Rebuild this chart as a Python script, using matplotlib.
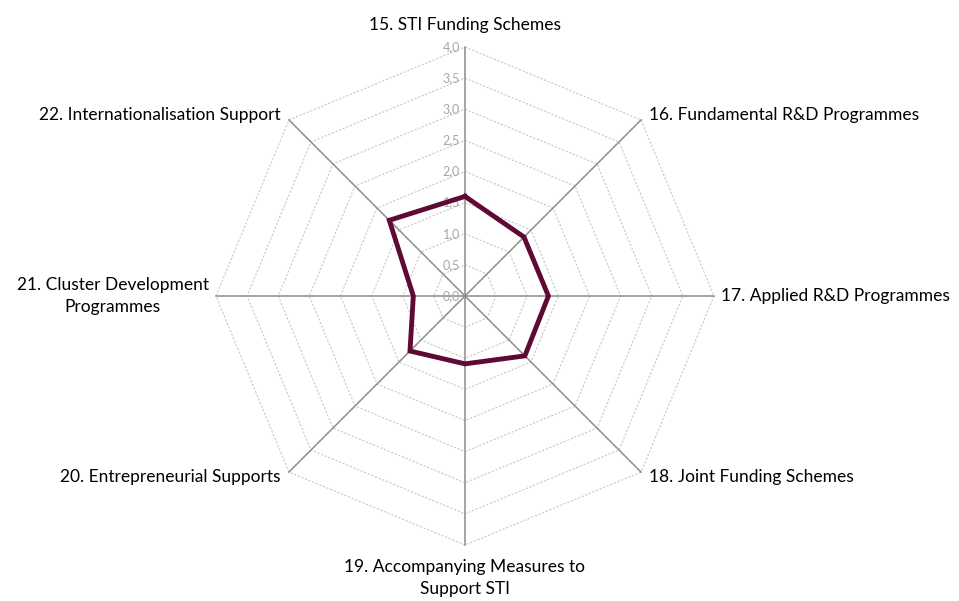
import numpy as np
import matplotlib.pyplot as plt

categories = [
    "15. STI Funding Schemes",
    "16. Fundamental R&D Programmes",
    "17. Applied R&D Programmes",
    "18. Joint Funding Schemes",
    "19. Accompanying Measures to\nSupport STI",
    "20. Entrepreneurial Supports",
    "21. Cluster Development\nProgrammes",
    "22. Internationalisation Support",
]
values = [1.60, 1.34, 1.34, 1.36, 1.09, 1.25, 0.83, 1.72]
ticks = [0.0, 0.5, 1.0, 1.5, 2.0, 2.5, 3.0, 3.5, 4.0]
tick_labels = ["0,0", "0,5", "1,0", "1,5", "2,0", "2,5", "3,0", "3,5", "4,0"]

plt.rcParams['font.family'] = ['Lato', 'DejaVu Sans']

fig = plt.figure(figsize=(9.59, 6.01), dpi=100)
ax = fig.add_axes([0, 0, 1, 1])
scale = 62.25  # pixels per unit
cx, cy = 465, 296
ax.set_xlim(-cx / scale, (959 - cx) / scale)
ax.set_ylim(-(601 - cy) / scale, cy / scale)
ax.axis("off")

n = len(categories)
ang = np.pi / 2 - np.arange(n) * 2 * np.pi / n
ux, uy = np.cos(ang), np.sin(ang)

# octagon grid
for t in ticks[1:]:
    ax.plot(np.append(ux, ux[0]) * t, np.append(uy, uy[0]) * t,
            color="#c8c8c8", lw=0.8, ls=(0, (2, 1.5)), zorder=1)

# spokes
for i in range(n):
    ax.plot([0, ux[i] * 4], [0, uy[i] * 4], color="#8c8c8c", lw=1.1, zorder=2)

# tick labels
for t, lab in zip(ticks, tick_labels):
    ax.text(-0.08, t, lab, ha="right", va="center", fontsize=9,
            color="#a6a6a6", zorder=3)

# data line
v = np.array(values)
ax.plot(np.append(ux * v, ux[0] * v[0]), np.append(uy * v, uy[0] * v[0]),
        color="#5e0a35", lw=3.5, solid_joinstyle="miter", zorder=4)

# category labels
r_lab = 4.12
pos = [
    (0, 4.22, "center", "bottom"),
    (ux[1] * r_lab + 0.05, uy[1] * r_lab, "left", "center"),
    (4.12, 0, "left", "center"),
    (ux[3] * r_lab + 0.05, uy[3] * r_lab, "left", "center"),
    (0, -4.22, "center", "top"),
    (ux[5] * r_lab - 0.05, uy[5] * r_lab, "right", "center"),
    (-4.12, 0, "right", "center"),
    (ux[7] * r_lab - 0.05, uy[7] * r_lab, "right", "center"),
]
for (x, y, ha, va), lab in zip(pos, categories):
    ax.text(x, y, lab, ha=ha, va=va, fontsize=12.5, color="black",
            multialignment="center", linespacing=1.45)

fig.savefig("out.png", dpi=100)
